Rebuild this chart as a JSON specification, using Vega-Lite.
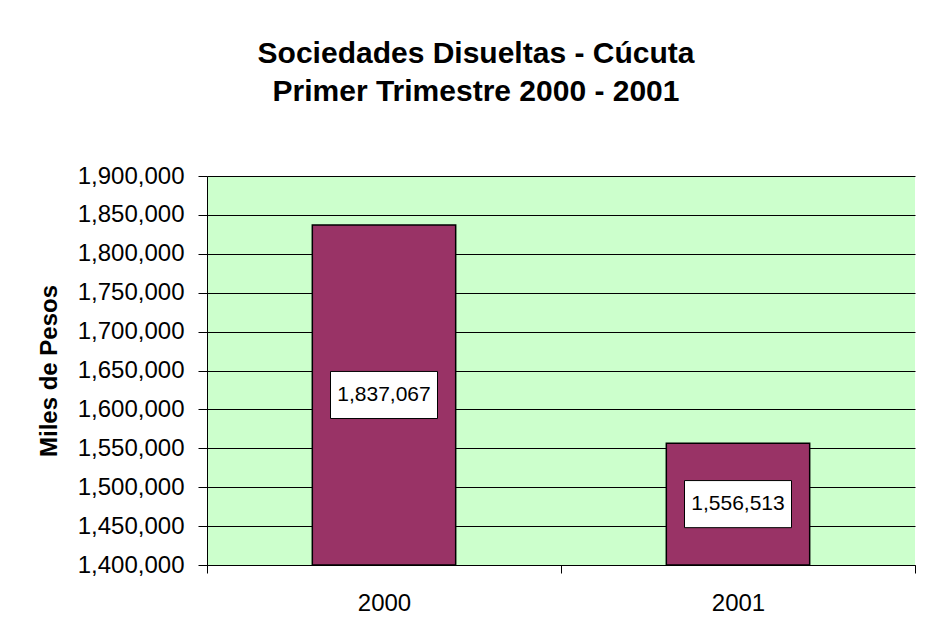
{
  "$schema": "https://vega.github.io/schema/vega-lite/v6.json",
  "width": 708,
  "height": 389,
  "autosize": "none",
  "padding": {"left": 207, "top": 176, "right": 31, "bottom": 56},
  "background": "white",
  "title": {
    "text": ["Sociedades Disueltas - Cúcuta", "Primer Trimestre 2000 - 2001"],
    "font": "Liberation Sans",
    "fontSize": 30,
    "fontWeight": "bold",
    "color": "black",
    "anchor": "middle",
    "dx": -85,
    "lineHeight": 38,
    "offset": 57
  },
  "config": {
    "view": {"fill": "#CCFFCC", "stroke": null},
    "font": "Liberation Sans",
    "axisY": {
      "titleFontSize": 24,
      "titleFontWeight": "bold",
      "titleColor": "black",
      "titlePadding": 16,
      "labelFontSize": 24,
      "labelColor": "black",
      "labelPadding": 14,
      "labelOverlap": false,
      "tickSize": 9,
      "tickColor": "black",
      "domainColor": "black",
      "grid": true,
      "gridColor": "black",
      "gridOpacity": 1,
      "gridWidth": 1
    }
  },
  "data": {
    "values": [
      {"anio": "2000", "valor": 1837067},
      {"anio": "2001", "valor": 1556513}
    ]
  },
  "transform": [{"calculate": "(datum.valor + 1400000) / 2", "as": "medio"}],
  "encoding": {
    "x": {
      "field": "anio",
      "type": "nominal",
      "scale": {"paddingInner": 0, "paddingOuter": 0},
      "axis": {
        "title": null,
        "labelAngle": 0,
        "labelFontSize": 24,
        "labelColor": "black",
        "labelPadding": 18,
        "tickBand": "extent",
        "tickSize": 8,
        "tickColor": "black",
        "domainColor": "black",
        "grid": false
      }
    }
  },
  "layer": [
    {
      "mark": {"type": "bar", "width": {"band": 0.405}, "fill": "#993366", "stroke": "black", "strokeWidth": 1.5},
      "encoding": {
        "y": {
          "field": "valor",
          "type": "quantitative",
          "scale": {"domain": [1400000, 1900000], "zero": false, "nice": false},
          "axis": {
            "title": "Miles de Pesos",
            "values": [1400000, 1450000, 1500000, 1550000, 1600000, 1650000, 1700000, 1750000, 1800000, 1850000, 1900000],
            "format": ",d"
          }
        },
        "y2": {"datum": 1400000}
      }
    },
    {
      "mark": {"type": "point", "shape": "M-1,-0.44L1,-0.44L1,0.44L-1,0.44Z", "size": 11449, "filled": true, "fill": "white", "stroke": "black", "strokeWidth": 1, "opacity": 1},
      "encoding": {
        "y": {
          "field": "medio",
          "type": "quantitative",
          "axis": {
            "title": "Miles de Pesos",
            "values": [1400000, 1450000, 1500000, 1550000, 1600000, 1650000, 1700000, 1750000, 1800000, 1850000, 1900000],
            "format": ",d"
          }
        }
      }
    },
    {
      "mark": {"type": "text", "fontSize": 21, "color": "black", "align": "center", "baseline": "middle"},
      "encoding": {
        "y": {
          "field": "medio",
          "type": "quantitative",
          "axis": {
            "title": "Miles de Pesos",
            "values": [1400000, 1450000, 1500000, 1550000, 1600000, 1650000, 1700000, 1750000, 1800000, 1850000, 1900000],
            "format": ",d"
          }
        },
        "text": {"field": "valor", "type": "quantitative", "format": ",d"}
      }
    }
  ]
}
